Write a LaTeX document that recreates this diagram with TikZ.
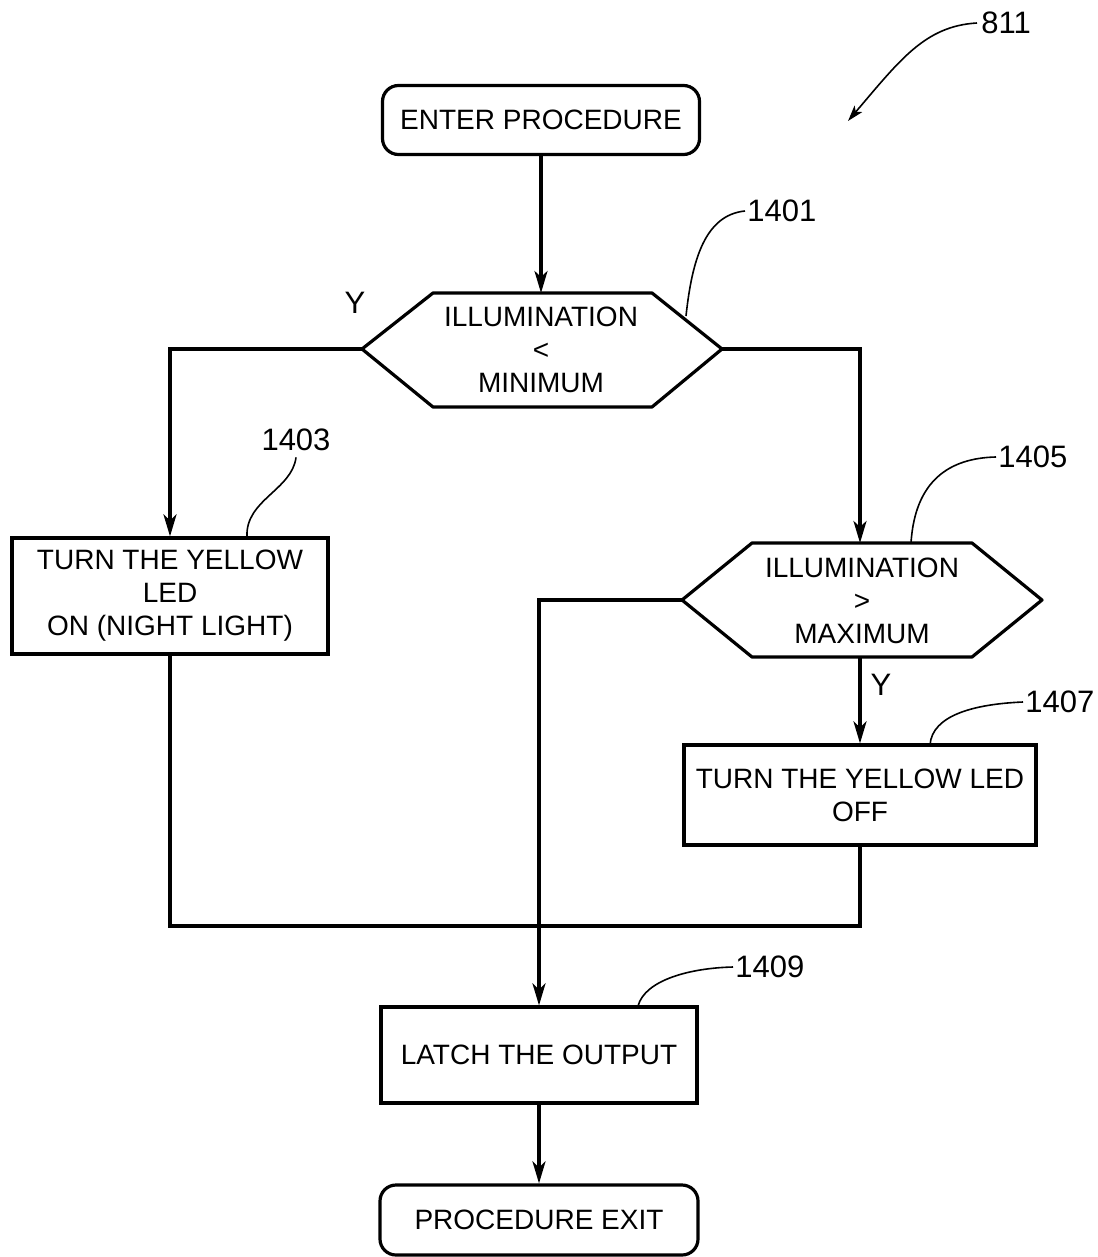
\documentclass[tikz,border=0pt]{standalone}
\usepackage{fontspec}
\setmainfont{Liberation Sans}
\usetikzlibrary{arrows.meta}
\tikzset{
  line/.style={line width=1.6pt},
  arr/.style={line width=1.6pt,-{Stealth[length=11pt,width=6.5pt,inset=3pt]}},
  lead/.style={line width=0.8pt},
  boxst/.style={draw,line width=1.6pt,align=center,font=\fontsize{14}{16.5}\selectfont,inner sep=0pt},
  roundst/.style={boxst,rounded corners=8pt},
  txt/.style={align=center,font=\fontsize{14}{16.5}\selectfont,inner sep=0pt},
  num/.style={font=\fontsize{15.5}{17}\selectfont,inner sep=0pt},
}
\begin{document}
\begin{tikzpicture}[x=0.5pt,y=-0.5pt]
\useasboundingbox (0,0) rectangle (1097,1257);
% nodes
\node[roundst,minimum width=158.5pt,minimum height=34.5pt] (enter) at (541,120) {ENTER PROCEDURE};
% decision 1
\coordinate (d1w) at (362,349);
\coordinate (d1e) at (722,349);
\coordinate (d1n) at (541,293);
\draw[line,line join=round] (d1w) -- (433,293) -- (652,293) -- (d1e) -- (652,407) -- (433,407) -- cycle;
\node[txt] (d1) at (541,350) {ILLUMINATION\\<\\MINIMUM};
% decision 2
\coordinate (d2w) at (682,600);
\coordinate (d2e) at (1042,600);
\coordinate (d2n) at (860,543);
\coordinate (d2s) at (860,657);
\draw[line,line join=round] (d2w) -- (752,543) -- (972,543) -- (d2e) -- (972,657) -- (752,657) -- cycle;
\node[txt] (d2) at (862,601) {ILLUMINATION\\>\\MAXIMUM};
% boxes
\node[boxst,minimum width=158pt,minimum height=58pt] (b1403) at (170,596) {TURN THE YELLOW\\LED\\ON (NIGHT LIGHT)};
\node[boxst,minimum width=176pt,minimum height=50pt] (b1407) at (860,795) {TURN THE YELLOW LED\\OFF};
\node[boxst,minimum width=158pt,minimum height=48pt] (b1409) at (539,1055) {LATCH THE OUTPUT};
\node[roundst,minimum width=159pt,minimum height=35pt] (exit) at (539,1220) {PROCEDURE EXIT};
\coordinate (join) at (539,926);
% connectors
\draw[arr] (enter.south) -- (d1n);
\draw[arr] (d1w) -| (b1403.north);
\draw[arr] (d1e) -| (d2n);
\draw[arr] (d2s) -- (b1407.north);
\draw[arr] (d2w) -| (b1409.north);
\draw[line] (b1403.south) |- (join);
\draw[line] (b1407.south) |- (join);
\draw[arr] (b1409.south) -- (exit.north);
% Y labels
\node[num] (y1) at (355,303) {Y};
\node[num] (y2) at (881,685) {Y};
% reference numbers
\node[num,anchor=west] (n811) at (981,23) {811};
\node[num,anchor=west] (n1401) at (747,211) {1401};
\node[num] (n1403) at (296,440) {1403};
\node[num,anchor=west] (n1405) at (998,457) {1405};
\node[num,anchor=west] (n1407) at (1025,702) {1407};
\node[num,anchor=west] (n1409) at (735,967) {1409};
% leaders
\coordinate (l811) at (848,121);
\draw[lead,-{Stealth[length=8pt,width=5pt,inset=2pt]}] ([xshift=-2pt]n811.west) .. controls (925,26) and (900,60) .. (l811);
\coordinate (l1401) at (686,316);
\draw[lead] (l1401) .. controls (692,260) and (705,215) .. ([xshift=-1pt]n1401.west);
\coordinate (l1403) at (247,537);
\draw[lead] (l1403) .. controls (245,500) and (292,490) .. ([yshift=-3pt]n1403.south);
\coordinate (l1405) at (911,543);
\draw[lead] (l1405) .. controls (915,480) and (950,458) .. ([xshift=-1pt]n1405.west);
\coordinate (l1407) at (930,745);
\draw[lead] (l1407) .. controls (932,715) and (975,704) .. ([xshift=-1pt]n1407.west);
\coordinate (l1409) at (638,1006);
\draw[lead] (l1409) .. controls (645,980) and (690,968) .. ([xshift=-1pt]n1409.west);
\end{tikzpicture}
\end{document}
